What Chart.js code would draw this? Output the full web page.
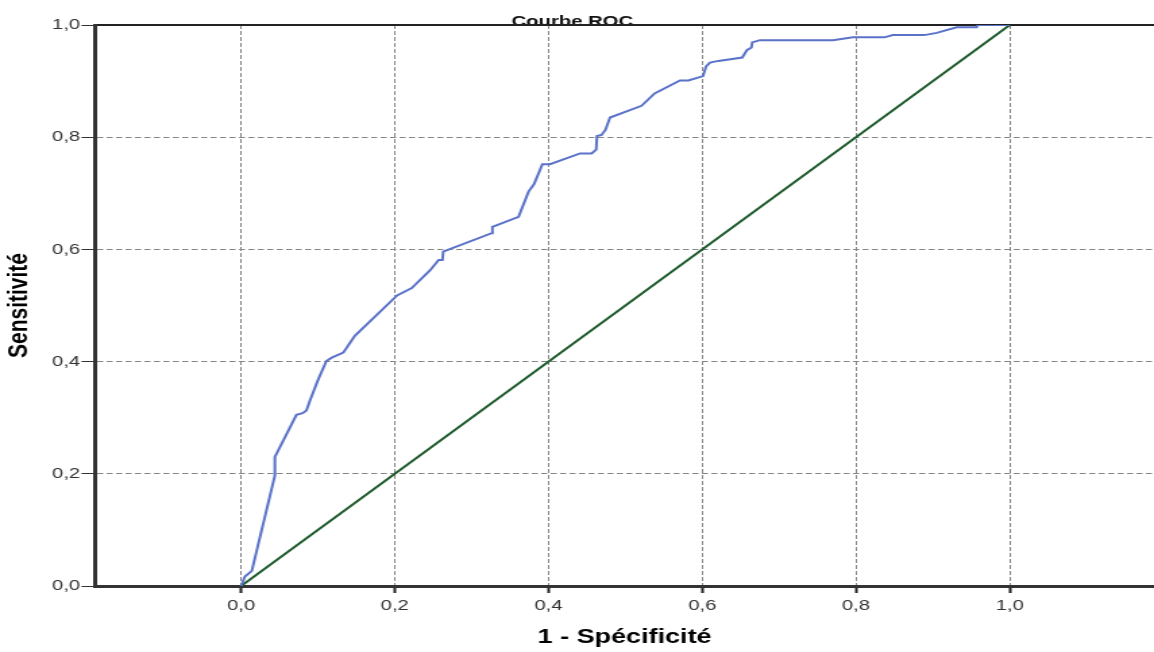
<!DOCTYPE html>
<html>
<head>
<meta charset="utf-8">
<script src="https://cdn.jsdelivr.net/npm/chart.js@4.4.1/dist/chart.umd.min.js"></script>
<style>
    body { margin: 0; background: #fff; }
    #wrap { width: 1154px; height: 652px; overflow: hidden; }
    /* the original picture is stretched sideways, so the canvas is too */
    #roc { transform: scaleX(1.3497); transform-origin: 0 0; }
</style>
</head>
<body>
<div id="wrap"><canvas id="roc" width="855" height="652"></canvas></div>
<script>
var titleText = "Courbe ROC";
var xTitle = "1 - Spécificité";
var yTitle = "Sensitivité";

var xTicks = [0, 0.2, 0.4, 0.6, 0.8, 1.0];
var xTickLabels = ["0,0", "0,2", "0,4", "0,6", "0,8", "1,0"];
var yTicks = [0, 0.2, 0.4, 0.6, 0.8, 1.0];
var yTickLabels = ["0,0", "0,2", "0,4", "0,6", "0,8", "1,0"];

// 1 - specificity / sensitivity
var rocX = [0, 0.005, 0.014, 0.044, 0.044, 0.072, 0.08, 0.085, 0.09, 0.1,
    0.111, 0.118, 0.133, 0.14, 0.148, 0.203, 0.222, 0.246, 0.257, 0.262,
    0.263, 0.326, 0.327, 0.361, 0.374, 0.381, 0.392, 0.402, 0.441, 0.456,
    0.462, 0.463, 0.469, 0.474, 0.48, 0.521, 0.538, 0.571, 0.582, 0.601,
    0.605, 0.61, 0.621, 0.652, 0.658, 0.664, 0.665, 0.675, 0.77, 0.796,
    0.837, 0.848, 0.889, 0.905, 0.931, 0.957, 0.958, 1.0];
var rocY = [0, 0.017, 0.027, 0.197, 0.23, 0.305, 0.308, 0.313, 0.332, 0.367,
    0.401, 0.407, 0.416, 0.43, 0.446, 0.518, 0.531, 0.563, 0.581, 0.581,
    0.596, 0.629, 0.64, 0.658, 0.703, 0.716, 0.752, 0.752, 0.771, 0.771,
    0.778, 0.802, 0.804, 0.813, 0.835, 0.856, 0.878, 0.901, 0.901, 0.909,
    0.926, 0.933, 0.936, 0.942, 0.955, 0.96, 0.969, 0.973, 0.973, 0.978,
    0.978, 0.982, 0.982, 0.986, 0.996, 0.996, 1.0, 1.0];

var refX = [0, 1];
var refY = [0, 1];

var xMin = -0.19;
var xMax = 1.1877;

var fontFamily = '"Liberation Sans", Arial, sans-serif';

function points(xs, ys) {
    return xs.map(function (x, i) { return { x: x, y: ys[i] }; });
}

var titlePlugin = {
    id: 'rocTitle',
    beforeDraw: function (chart) {
        var ctx = chart.ctx;
        ctx.save();
        ctx.font = 'bold 15px ' + fontFamily;
        ctx.fillStyle = '#111';
        ctx.textAlign = 'center';
        ctx.textBaseline = 'alphabetic';
        ctx.fillText(titleText, 424, 26);
        ctx.restore();
    }
};

var options = {
    type: 'scatter',
    data: {
        datasets: [
            {
                label: 'ROC',
                data: points(rocX, rocY),
                showLine: true,
                borderColor: '#5a72c8',
                borderWidth: 2,
                pointRadius: 0,
                tension: 0
            },
            {
                label: 'Référence',
                data: points(refX, refY),
                showLine: true,
                borderColor: '#1d5a2b',
                borderWidth: 2,
                pointRadius: 0
            }
        ]
    },
    options: {
        responsive: false,
        animation: false,
        devicePixelRatio: 1,
        layout: {
            padding: { top: 25, left: 0, right: 0, bottom: 0 }
        },
        plugins: {
            legend: { display: false },
            tooltip: { enabled: false }
        },
        scales: {
            x: {
                type: 'linear',
                position: 'bottom',
                min: xMin,
                max: xMax,
                afterBuildTicks: function (s) {
                    s.ticks = xTicks.map(function (v) { return { value: v }; });
                },
                afterFit: function (s) { s.height = 66; },
                ticks: {
                    autoSkip: false,
                    maxRotation: 0,
                    padding: 4,
                    color: '#333',
                    font: { family: fontFamily, size: 15 },
                    callback: function (v) {
                        var i = xTicks.indexOf(v);
                        return i >= 0 ? xTickLabels[i] : '';
                    }
                },
                grid: {
                    color: '#858585',
                    lineWidth: 1,
                    tickColor: '#222',
                    tickLength: 7,
                    tickWidth: 2
                },
                border: {
                    color: '#333',
                    width: 3,
                    dash: [4, 2]
                },
                title: {
                    display: true,
                    text: xTitle,
                    color: '#000',
                    padding: { top: 0, bottom: 3 },
                    font: { family: fontFamily, size: 20, weight: 'bold' }
                }
            },
            xTop: {
                type: 'linear',
                position: 'top',
                min: xMin,
                max: xMax,
                afterFit: function (s) { s.height = 0; },
                ticks: { display: false },
                grid: { display: false, drawTicks: false },
                border: { color: '#222', width: 2 }
            },
            y: {
                type: 'linear',
                position: 'left',
                min: 0,
                max: 1,
                afterBuildTicks: function (s) {
                    s.ticks = yTicks.map(function (v) { return { value: v }; });
                },
                afterFit: function (s) { s.width = 70.4; },
                ticks: {
                    padding: 1,
                    color: '#333',
                    font: { family: fontFamily, size: 15 },
                    callback: function (v) {
                        var i = yTicks.indexOf(v);
                        return i >= 0 ? yTickLabels[i] : '';
                    }
                },
                grid: {
                    color: function (c) {
                        if (c.tick && (c.tick.value === 0 || c.tick.value === 1)) {
                            return 'rgba(0,0,0,0)';
                        }
                        return '#858585';
                    },
                    lineWidth: 1,
                    tickColor: '#333',
                    tickLength: 10,
                    tickWidth: 1
                },
                border: {
                    color: '#333',
                    width: 3,
                    dash: [4.5, 2.5]
                },
                title: {
                    display: true,
                    text: yTitle,
                    color: '#000',
                    padding: { top: 2, bottom: 0 },
                    font: { family: fontFamily, size: 21, weight: 'bold' }
                }
            }
        }
    },
    plugins: [titlePlugin]
};

var chartElement = document.querySelector("#roc");
var chart = new Chart(chartElement.getContext("2d"), options);
</script>
</body>
</html>
